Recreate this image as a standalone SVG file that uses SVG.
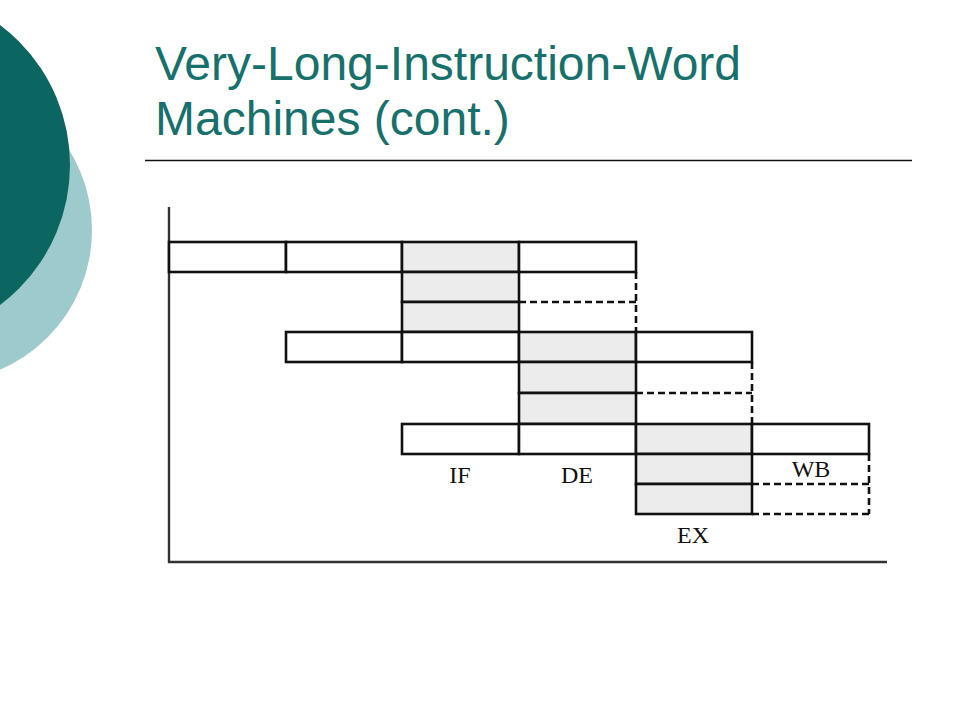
<svg xmlns="http://www.w3.org/2000/svg" width="960" height="720" viewBox="0 0 960 720">
<style>
.cell{fill:#ffffff;stroke:#111;stroke-width:2.6}
.g{fill:#ececec;stroke:#111;stroke-width:2.6}
.d{fill:none;stroke:#111;stroke-width:2.6;stroke-dasharray:7 4}
.ax{fill:none;stroke:#333;stroke-width:2.4}
.lbl{font-family:"Liberation Serif","Times New Roman",serif;font-size:24px;fill:#111;text-anchor:middle}
.title{font-family:"Liberation Sans",Arial,sans-serif;font-size:48px;fill:#17706B}
</style>
<rect width="960" height="720" fill="#ffffff"/>
<g id="decor">
<circle cx="-60" cy="230" r="152" fill="#9DCBCD"/>
<circle cx="-105" cy="165" r="175" fill="#0B6661"/>
</g>
<g id="title">
<text class="title" x="155" y="80">Very-Long-Instruction-Word</text>
<text class="title" x="155" y="135">Machines (cont.)</text>
<line x1="145" y1="160.5" x2="912" y2="160.5" stroke="#111" stroke-width="1.3"/>
</g>
<g id="axes">
<polyline class="ax" points="169,207 169,562 887,562"/>
</g>
<g id="connectors">
<polyline class="d" points="519,302 636,302"/>
<polyline class="d" points="636,272 636,332"/>
<polyline class="d" points="636,393 752,393"/>
<polyline class="d" points="752,362 752,424"/>
<polyline class="d" points="752,484 869,484"/>
<polyline class="d" points="752,514 869,514"/>
<polyline class="d" points="869,454 869,514"/>
</g>
<g id="group1">
<rect class="cell" x="169" y="242" width="117" height="30"/>
<rect class="cell" x="286" y="242" width="116" height="30"/>
<rect class="g" x="402" y="242" width="117" height="30"/>
<rect class="cell" x="519" y="242" width="117" height="30"/>
<rect class="g" x="402" y="272" width="117" height="30"/>
<rect class="g" x="402" y="302" width="117" height="30"/>
</g>
<g id="group2">
<rect class="cell" x="286" y="332" width="116" height="30"/>
<rect class="cell" x="402" y="332" width="117" height="30"/>
<rect class="g" x="519" y="332" width="117" height="30"/>
<rect class="cell" x="636" y="332" width="116" height="30"/>
<rect class="g" x="519" y="362" width="117" height="31"/>
<rect class="g" x="519" y="393" width="117" height="31"/>
</g>
<g id="group3">
<rect class="cell" x="402" y="424" width="117" height="30"/>
<rect class="cell" x="519" y="424" width="117" height="30"/>
<rect class="g" x="636" y="424" width="116" height="30"/>
<rect class="cell" x="752" y="424" width="117" height="30"/>
<rect class="g" x="636" y="454" width="116" height="30"/>
<rect class="g" x="636" y="484" width="116" height="30"/>
</g>
<g id="labels">
<text class="lbl" x="460" y="483">IF</text>
<text class="lbl" x="577" y="483">DE</text>
<text class="lbl" x="811" y="477">WB</text>
<text class="lbl" x="693" y="543">EX</text>
</g>
</svg>
